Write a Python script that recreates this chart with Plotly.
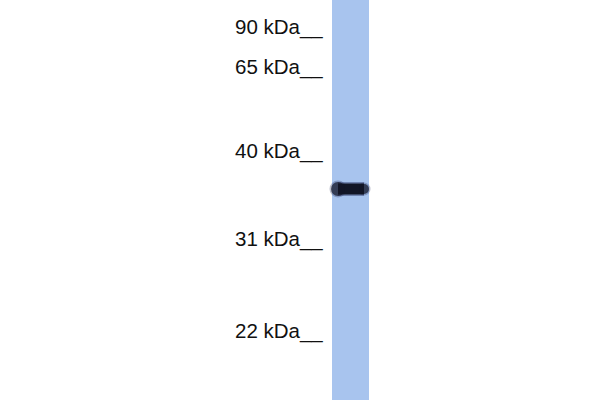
import plotly.graph_objects as go

# ---- data read from the blot ----
marker_kda = [90, 65, 40, 31, 22]            # ladder sizes (kDa)
marker_pos = [27, 67, 151, 239, 331]         # migration distance (px from top)
lane_left, lane_right = 332, 369             # lane edges (px)
lane_length = 400                            # lane runs whole height
band_pos = 189                               # detected band migration (px)
band_thickness = [14, 10]                    # left / right band thickness

lane_center = (lane_left + lane_right) / 2
lane_width = lane_right - lane_left

fig = go.Figure()

# lane
fig.add_trace(go.Bar(
    x=[lane_center], y=[lane_length], base=[0], width=[lane_width],
    marker=dict(color="rgb(168,196,238)", line=dict(width=0)),
    hoverinfo="skip", showlegend=False,
))

band_x = [lane_left + 6, lane_right - 5]
# band halo
fig.add_trace(go.Scatter(
    x=band_x, y=[band_pos, band_pos],
    mode="lines+markers",
    line=dict(color="rgba(45,55,100,0.45)", width=14),
    marker=dict(size=[band_thickness[0] + 3, band_thickness[1] + 3],
                color="rgba(45,55,100,0.45)", line=dict(width=0)),
    hoverinfo="skip", showlegend=False,
))
# band core
fig.add_trace(go.Scatter(
    x=band_x, y=[band_pos, band_pos],
    mode="lines+markers",
    line=dict(color="#121626", width=11),
    marker=dict(size=band_thickness, color="#121626", line=dict(width=0)),
    hoverinfo="skip", showlegend=False,
))

for kda, pos in zip(marker_kda, marker_pos):
    fig.add_annotation(
        x=325, y=pos, xref="x", yref="y",
        text=f"{kda} kDa__", showarrow=False,
        xanchor="right", yanchor="middle",
        font=dict(family="Liberation Sans, Arial, sans-serif", size=20.5, color="#111111"),
    )

fig.update_layout(
    width=600, height=400,
    margin=dict(l=0, r=0, t=0, b=0),
    paper_bgcolor="white", plot_bgcolor="white",
    xaxis=dict(range=[0, 600], visible=False, fixedrange=True),
    yaxis=dict(range=[400, 0], visible=False, fixedrange=True),
    bargap=0,
)

fig.write_html("out.html", config={"displayModeBar": False},
               post_script="document.body.style.margin='0';")
